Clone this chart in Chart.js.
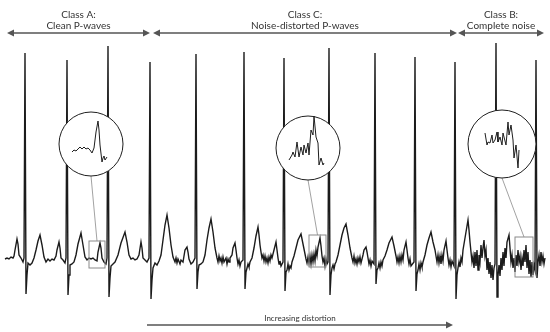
<!DOCTYPE html>
<html>
<head>
<meta charset="utf-8">
<script src="https://cdn.jsdelivr.net/npm/chart.js@4.4.1/dist/chart.umd.min.js"></script>
<style>
  html, body { margin: 0; padding: 0; background: #fff; }
  #wrap { width: 550px; height: 332px; position: relative; }
</style>
</head>
<body>
<div id="wrap"><canvas id="chart"></canvas></div>
<script>
// ECG trace, [sample, mV], one sample per pixel column
const cleanSegment = [
  [5,-0.01],[7,0],[9,-0.01],[11,0.01],[13,0],[14,0.02],[15,0.08],[17,0.19],[18,0.14],[19,0.03],
  [21,0],[23,-0.04],[24,0],[25,2.05],[26,-0.36],[27,-0.17],[28,-0.05],[30,-0.07],[32,-0.05],[34,0],
  [36,0.08],[38,0.17],[40,0.23],[42,0.13],[44,0.01],[46,-0.04],[48,-0.01],[50,-0.03],[52,-0.01],[54,-0.02],
  [56,0.02],[57,0.08],[59,0.16],[60,0.10],[61,0],[63,-0.02],[65,-0.05],[66,0],[67,1.98],[68,-0.37],
  [69,-0.17],[70,-0.07],[72,-0.06],[74,-0.04],[76,0.03],[78,0.14],[81,0.25],[83,0.13],[85,0.01],[87,-0.02],
  [89,0],[91,-0.01],[93,0],[95,-0.02],[97,-0.03],[98,0.06],[100,0.15],[101,0.10],[102,0],[104,-0.04],
  [106,-0.06],[107,0],[108,2.12],[109,-0.39],[110,-0.20],[111,-0.08],[113,-0.06],[115,-0.04],[118,0.03],[121,0.15],
  [125,0.26],[127,0.16],[129,0.03],[131,-0.01],[133,0],[135,-0.02],[137,-0.01],[139,0.03],[141,0.16],[142,0.10],
  [143,0],[145,-0.02],[147,-0.04],[149,0],[150,1.96],[151,-0.41]
];
const distortedSegment = [
  [152,-0.22],[153,-0.10],[155,-0.05],[157,-0.07],[159,-0.03],[161,0.03],[163,0.18],[165,0.33],[167,0.43],[169,0.30],
  [171,0.13],[173,0.01],[175,-0.04],[176,0],[177,-0.05],[178,-0.01],[180,-0.06],[181,-0.02],[183,-0.04],[184,0.02],
  [185,0.08],[187,0.11],[188,0.06],[189,-0.01],[191,-0.06],[193,-0.04],[195,0],[196,2.04],[197,-0.31],[198,-0.14],
  [199,-0.07],[201,-0.06],[203,-0.04],[205,0.03],[207,0.18],[209,0.30],[211,0.39],[213,0.26],[215,0.10],[217,0],
  [218,-0.04],[219,0.02],[220,-0.03],[221,0],[222,-0.05],[223,0.01],[224,-0.04],[226,0],[227,-0.06],[228,-0.01],
  [229,-0.04],[230,0],[232,0.03],[233,0.10],[235,0.15],[236,0.08],[237,0],[238,-0.06],[239,-0.02],[240,-0.08],
  [241,-0.04],[243,-0.02],[244,2.06],[245,-0.31],[246,-0.14],[247,-0.10],[248,-0.06],[249,-0.09],[250,-0.04],[252,0],
  [254,0.10],[256,0.22],[258,0.31],[259,0.23],[260,0.13],[261,0.06],[262,0],[263,0.03],[264,-0.03],[265,0.02],
  [266,-0.04],[267,0],[268,-0.05],[269,0.01],[270,-0.03],[271,0.03],[272,0],[274,0.08],[276,0.16],[277,0.08],
  [278,0],[279,-0.06],[280,-0.03],[281,-0.08],[283,-0.04],[284,2.00],[285,-0.33],[286,-0.14],[287,-0.12],[288,-0.06],
  [289,-0.12],[290,-0.08],[291,-0.10],[292,-0.04],[294,0.02],[296,0.10],[298,0.18],[301,0.24],[303,0.14],[305,0.04],
  [306,-0.01],[307,-0.05],[308,0.01],[309,-0.05],[310,0.02],[311,-0.06],[312,0.03],[313,-0.04],[314,0.04],[315,-0.03],
  [316,0.08],[317,0.02],[318,0.11],[320,0.20],[321,0.12],[322,0.02],[323,-0.04],[324,0],[325,-0.08],[326,-0.01],
  [327,-0.06],[328,-0.04],[329,2.10],[330,-0.37],[331,-0.17],[332,-0.10],[333,-0.07],[334,-0.11],[335,-0.06],[336,-0.04],
  [338,0.03],[340,0.13],[342,0.23],[344,0.30],[346,0.34],[348,0.23],[350,0.10],[352,0],[353,-0.04],[354,0.02],
  [355,-0.05],[356,-0.01],[357,-0.06],[358,0],[359,-0.04],[360,0.01],[361,-0.05],[362,-0.01],[363,0.03],[364,0.08],
  [366,0.11],[367,0.06],[368,0],[369,-0.06],[370,-0.02],[371,-0.08],[372,-0.03],[374,-0.06],[375,2.05],[376,-0.26],
  [377,-0.12],[378,-0.10],[379,-0.05],[380,-0.10],[381,-0.04],[382,-0.08],[383,-0.02],[385,0.02],[387,0.08],[389,0.15],
  [392,0.21],[394,0.12],[396,0.02],[397,-0.04],[398,0.01],[399,-0.05],[400,0.02],[401,-0.04],[402,0.03],[403,-0.02],
  [404,0.08],[406,0.16],[407,0.08],[408,0],[409,-0.06],[410,-0.01],[411,-0.08],[414,-0.04],[415,2.01],[416,-0.33],
  [417,-0.16],[418,-0.12],[419,-0.06],[420,-0.12],[421,-0.05],[422,-0.09],[423,-0.04],[425,0.03],[427,0.13],[429,0.20],
  [431,0.26],[433,0.16],[435,0.08],[436,0.02],[437,-0.04],[438,0.03],[439,-0.05],[440,0.02],[441,-0.06],[442,0.03],
  [443,-0.03],[444,0.08],[446,0.17],[447,0.08],[448,0],[449,-0.07],[450,-0.02],[451,-0.09],[452,-0.03],[454,-0.08],
  [455,1.96],[456,-0.41]
];
const noiseSegment = [
  [457,-0.17],[458,-0.10],[459,-0.04],[460,-0.09],[461,0],[462,-0.04],[463,0.08],[465,0.20],[467,0.32],[468,0.38],
  [469,0.28],[470,0.16],[471,0.06],[472,-0.04],[473,0.02],[474,-0.10],[475,0.06],[476,-0.08],[477,0.08],[478,-0.12],
  [479,0.03],[480,-0.04],[481,0.13],[482,0],[483,0.10],[484,0.18],[485,0.02],[486,0.08],[487,-0.12],[488,0],
  [489,-0.16],[490,-0.04],[491,-0.20],[492,-0.07],[493,-0.22],[494,-0.10],[495,-0.06],[496,2.15],[497,-0.39],[498,-0.18],
  [499,-0.07],[500,-0.18],[501,0],[502,-0.12],[503,0.06],[504,-0.08],[505,0.10],[506,0],[507,0.16],[509,0.23],
  [510,0.10],[511,-0.04],[512,0.03],[513,-0.10],[514,0],[515,-0.14],[516,0.03],[517,-0.08],[518,0.08],[519,-0.04],
  [520,0.02],[521,-0.12],[522,0],[523,-0.08],[524,0.08],[525,-0.04],[526,0.13],[527,-0.10],[528,0.06],[529,-0.16],
  [530,-0.02],[531,-0.19],[532,-0.04],[533,-0.17],[534,-0.07],[535,-0.12],[536,1.98],[537,-0.20],[538,-0.04],[539,0.03],
  [540,-0.08],[541,0.06],[542,-0.04],[543,0.02],[544,-0.06],[545,0]
];

// magnified views shown inside the circles
const insetClean = [
  [72,1.06],[74,1.08],[76,1.07],[78,1.09],[80,1.11],[82,1.09],[84,1.11],[86,1.09],[88,1.10],[90,1.08],
  [92,1.05],[94,1.10],[96,1.26],[98,1.37],[99,1.28],[100,1.13],[102,0.96],[103,1.00],[104,1.02],[105,0.98],[107,1.01]
];
const insetDistorted = [
  [289,0.98],[292,1.03],[293,1.06],[295,1.01],[297,1.16],[299,1.01],[301,1.11],[303,1.03],[304,1.13],[306,1.05],
  [308,1.15],[309,1.03],[311,1.28],[313,1.23],[314,1.42],[316,1.21],[318,1.15],[319,0.93],[321,1.00],[323,0.93],[324,0.95]
];
const insetNoise = [
  [485,1.25],[487,1.13],[488,1.16],[490,1.15],[492,1.23],[493,1.15],[495,1.18],[497,1.26],[498,1.16],[500,1.21],
  [502,1.13],[503,1.25],[506,1.13],[508,1.36],[509,1.23],[511,1.33],[513,1.18],[514,1.00],[516,1.13],[518,0.90],[519,1.08]
];

// class spans along the top (sample numbers) and their labels
const classStart = [7, 153, 458];
const classEnd = [150, 457, 544];
const classTitles = ['Class A:', 'Class C:', 'Class B:'];
const classNames = ['Clean P-waves', 'Noise-distorted P-waves', 'Complete noise'];

// zoomed windows [x0, x1, mVtop, mVbottom] and circle centres [sample, mV]
const zoomBoxes = [[89, 105, 0.17, -0.10], [309, 326, 0.23, -0.09], [515, 533, 0.21, -0.19]];
const zoomCircles = [[91, 1.14], [308, 1.10], [502, 1.14]];

const distortionStart = 147;
const distortionEnd = 453;

function toXY(arr) {
    return arr.map(function (p) { return { x: p[0], y: p[1] }; });
}

const ecg = cleanSegment.concat(distortedSegment, noiseSegment);
const circleRadius = [32, 32, 34];

function arrowHead(ctx, x, y, dir) {
    ctx.beginPath();
    ctx.moveTo(x, y);
    ctx.lineTo(x - dir * 7, y - 3.5);
    ctx.lineTo(x - dir * 7, y + 3.5);
    ctx.closePath();
    ctx.fill();
}

const overlay = {
    id: 'overlay',
    afterDatasetDraw: function (chart, args) {
        if (args.index !== 0) return;
        const ctx = chart.ctx;
        const xs = chart.scales.x, ys = chart.scales.y;
        ctx.save();
        zoomBoxes.forEach(function (b, i) {
            const x0 = xs.getPixelForValue(b[0]), x1 = xs.getPixelForValue(b[1]);
            const y0 = ys.getPixelForValue(b[2]), y1 = ys.getPixelForValue(b[3]);
            ctx.strokeStyle = '#8a8a8a';
            ctx.lineWidth = 1;
            ctx.strokeRect(x0, y0, x1 - x0, y1 - y0);
            const cx = xs.getPixelForValue(zoomCircles[i][0]);
            const cy = ys.getPixelForValue(zoomCircles[i][1]);
            ctx.beginPath();
            ctx.moveTo((x0 + x1) / 2, y0);
            ctx.lineTo(cx, cy + circleRadius[i]);
            ctx.lineWidth = 0.8;
            ctx.stroke();
            ctx.beginPath();
            ctx.arc(cx, cy, circleRadius[i], 0, Math.PI * 2);
            ctx.fillStyle = '#ffffff';
            ctx.fill();
            ctx.strokeStyle = '#1e1e1e';
            ctx.lineWidth = 1;
            ctx.stroke();
        });
        ctx.restore();
    },
    afterDraw: function (chart) {
        const ctx = chart.ctx;
        const xs = chart.scales.x, ys = chart.scales.y;
        ctx.save();
        ctx.strokeStyle = '#555';
        ctx.fillStyle = '#555';
        ctx.lineWidth = 1.4;
        const yArrow = ys.getPixelForValue(2.25);
        for (let i = 0; i < classStart.length; i++) {
            const a = xs.getPixelForValue(classStart[i]), b = xs.getPixelForValue(classEnd[i]);
            ctx.beginPath();
            ctx.moveTo(a + 3, yArrow);
            ctx.lineTo(b - 3, yArrow);
            ctx.stroke();
            arrowHead(ctx, a, yArrow, -1);
            arrowHead(ctx, b, yArrow, 1);
        }
        const yb = ys.getPixelForValue(-0.67);
        const a = xs.getPixelForValue(distortionStart), b = xs.getPixelForValue(distortionEnd);
        ctx.beginPath();
        ctx.moveTo(a, yb);
        ctx.lineTo(b - 3, yb);
        ctx.stroke();
        arrowHead(ctx, b, yb, 1);

        ctx.fillStyle = '#333';
        ctx.textAlign = 'center';
        ctx.textBaseline = 'middle';
        ctx.font = '10px Lato';
        for (let i = 0; i < classStart.length; i++) {
            const mid = xs.getPixelForValue((classStart[i] + classEnd[i]) / 2);
            ctx.fillText(classTitles[i], mid, ys.getPixelForValue(2.43));
            ctx.fillText(classNames[i], mid, ys.getPixelForValue(2.32));
        }
        ctx.font = '8px Lato';
        ctx.fillText('Increasing distortion', xs.getPixelForValue((distortionStart + distortionEnd) / 2), ys.getPixelForValue(-0.60));
        ctx.restore();
    }
};

const insetStyle = { borderColor: '#1e1e1e', borderWidth: 1, pointRadius: 0, order: 1 };

new Chart(document.getElementById('chart').getContext('2d'), {
    type: 'line',
    data: {
        datasets: [
            { label: 'ECG', data: toXY(ecg), borderColor: '#1b1b1b', borderWidth: 1.4, pointRadius: 0, order: 2 },
            Object.assign({ label: 'Clean', data: toXY(insetClean) }, insetStyle),
            Object.assign({ label: 'Distorted', data: toXY(insetDistorted) }, insetStyle),
            Object.assign({ label: 'Noise', data: toXY(insetNoise) }, insetStyle)
        ]
    },
    options: {
        responsive: true,
        maintainAspectRatio: false,
        animation: false,
        layout: { padding: 0 },
        plugins: { legend: { display: false }, tooltip: { enabled: false } },
        scales: {
            x: { type: 'linear', min: 0, max: 550, display: false },
            y: { min: -0.74, max: 2.58, display: false }
        }
    },
    plugins: [overlay]
});
</script>
</body>
</html>
